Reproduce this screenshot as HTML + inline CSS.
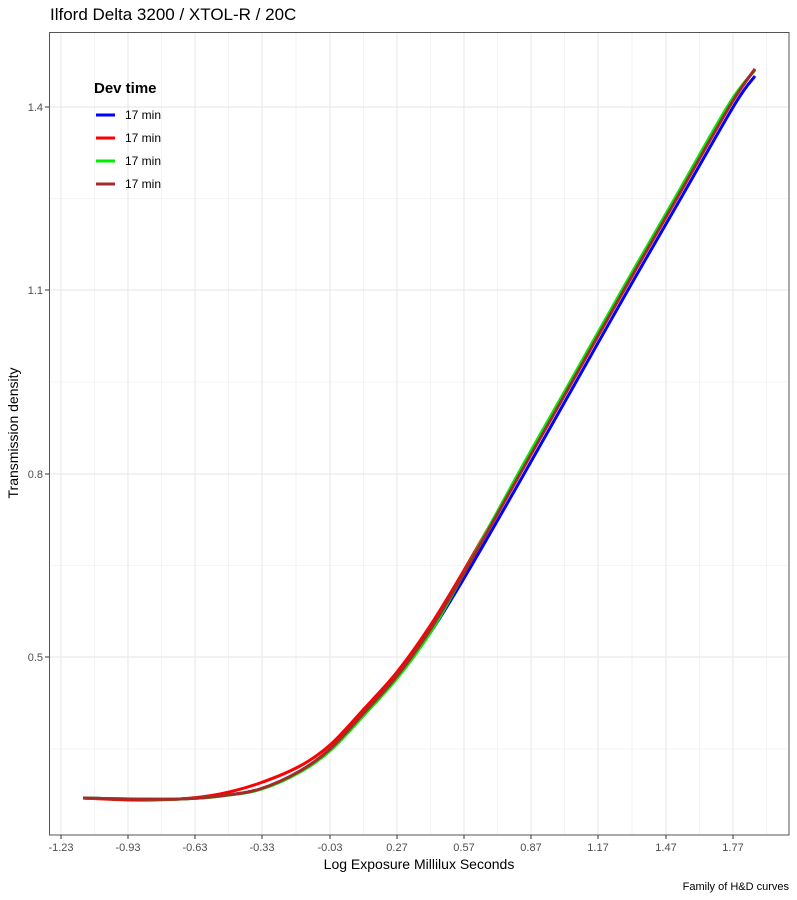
<!DOCTYPE html>
<html><head><meta charset="utf-8"><style>
body{margin:0;background:#fff;}
svg{display:block;font-family:"Liberation Sans",sans-serif;}
</style></head><body>
<svg id="s" width="797" height="900" viewBox="0 0 797 900">
<rect width="797" height="900" fill="#fff"/>
<text x="50" y="20" font-size="17" fill="#000">Ilford Delta 3200 / XTOL-R / 20C</text>
<g stroke="#ebebeb" stroke-width="0.6">
<line x1="94.5" y1="32" x2="94.5" y2="835"/><line x1="161.5" y1="32" x2="161.5" y2="835"/><line x1="228.5" y1="32" x2="228.5" y2="835"/><line x1="296" y1="32" x2="296" y2="835"/><line x1="363.5" y1="32" x2="363.5" y2="835"/><line x1="430.5" y1="32" x2="430.5" y2="835"/><line x1="497.5" y1="32" x2="497.5" y2="835"/><line x1="564.5" y1="32" x2="564.5" y2="835"/><line x1="632" y1="32" x2="632" y2="835"/><line x1="699.5" y1="32" x2="699.5" y2="835"/><line x1="766.5" y1="32" x2="766.5" y2="835"/>
<line x1="50" y1="198.5" x2="789" y2="198.5"/><line x1="50" y1="382" x2="789" y2="382"/><line x1="50" y1="565.5" x2="789" y2="565.5"/><line x1="50" y1="749" x2="789" y2="749"/>
</g>
<g stroke="#ebebeb" stroke-width="1.2">
<line x1="61" y1="32" x2="61" y2="835"/><line x1="128" y1="32" x2="128" y2="835"/><line x1="195" y1="32" x2="195" y2="835"/><line x1="262" y1="32" x2="262" y2="835"/><line x1="330" y1="32" x2="330" y2="835"/><line x1="397" y1="32" x2="397" y2="835"/><line x1="464" y1="32" x2="464" y2="835"/><line x1="531" y1="32" x2="531" y2="835"/><line x1="598" y1="32" x2="598" y2="835"/><line x1="666" y1="32" x2="666" y2="835"/><line x1="733" y1="32" x2="733" y2="835"/>
<line x1="50" y1="107" x2="789" y2="107"/><line x1="50" y1="290" x2="789" y2="290"/><line x1="50" y1="474" x2="789" y2="474"/><line x1="50" y1="657" x2="789" y2="657"/>
</g>
<g fill="none" stroke-width="3" stroke-linejoin="round">
<path id="pb" stroke="#0000ff"/>
<path id="pr" stroke="#ff0000"/>
<path id="pg" stroke="#00ee00"/>
<path id="pn" stroke="#a52a2a"/>
</g>
<rect x="49.5" y="32.5" width="739.5" height="802.5" fill="none" stroke="#555" stroke-width="1"/>
<g stroke="#333" stroke-width="1">
<line x1="61" y1="835" x2="61" y2="839"/><line x1="128" y1="835" x2="128" y2="839"/><line x1="195" y1="835" x2="195" y2="839"/><line x1="262" y1="835" x2="262" y2="839"/><line x1="330" y1="835" x2="330" y2="839"/><line x1="397" y1="835" x2="397" y2="839"/><line x1="464" y1="835" x2="464" y2="839"/><line x1="531" y1="835" x2="531" y2="839"/><line x1="598" y1="835" x2="598" y2="839"/><line x1="666" y1="835" x2="666" y2="839"/><line x1="733" y1="835" x2="733" y2="839"/>
<line x1="45" y1="107" x2="49" y2="107"/><line x1="45" y1="290" x2="49" y2="290"/><line x1="45" y1="474" x2="49" y2="474"/><line x1="45" y1="657" x2="49" y2="657"/>
</g>
<g font-size="11" fill="#4d4d4d" text-anchor="middle">
<text x="61" y="851">-1.23</text><text x="128" y="851">-0.93</text><text x="195" y="851">-0.63</text><text x="262" y="851">-0.33</text><text x="330" y="851">-0.03</text><text x="397" y="851">0.27</text><text x="464" y="851">0.57</text><text x="531" y="851">0.87</text><text x="598" y="851">1.17</text><text x="666" y="851">1.47</text><text x="733" y="851">1.77</text>
</g>
<g font-size="11" fill="#4d4d4d" text-anchor="end">
<text x="43" y="111">1.4</text><text x="43" y="294">1.1</text><text x="43" y="478">0.8</text><text x="43" y="661">0.5</text>
</g>
<text x="419" y="869" font-size="14" text-anchor="middle" fill="#000">Log Exposure Millilux Seconds</text>
<text transform="translate(18,433) rotate(-90)" font-size="14" text-anchor="middle" fill="#000">Transmission density</text>
<text x="789" y="890" font-size="11" text-anchor="end" fill="#000">Family of H&amp;D curves</text>
<text x="94" y="93" font-size="15" font-weight="bold" fill="#000">Dev time</text>
<g stroke-width="3">
<line x1="96" y1="115" x2="115" y2="115" stroke="#0000ff"/>
<line x1="96" y1="138" x2="115" y2="138" stroke="#ff0000"/>
<line x1="96" y1="161" x2="115" y2="161" stroke="#00ee00"/>
<line x1="96" y1="184" x2="115" y2="184" stroke="#a52a2a"/>
</g>
<g font-size="12" fill="#000">
<text x="125" y="119">17 min</text><text x="125" y="142">17 min</text><text x="125" y="165">17 min</text><text x="125" y="188">17 min</text>
</g>
</svg>
<script>
function cr(p){var d="M"+p[0][0]+","+p[0][1];for(var i=0;i<p.length-1;i++){var a=p[Math.max(i-1,0)],b=p[i],c=p[i+1],e=p[Math.min(i+2,p.length-1)];
d+=" C"+(b[0]+(c[0]-a[0])/6).toFixed(1)+","+(b[1]+(c[1]-a[1])/6).toFixed(1)+" "+(c[0]-(e[0]-b[0])/6).toFixed(1)+","+(c[1]-(e[1]-b[1])/6).toFixed(1)+" "+c[0]+","+c[1];}return d;}
var brown=[[83,798],[130,799],[180,799],[220,796],[260,789],[300,771],[330,749],[363,714],[397,676],[430,630],[463,575],[520,474],[572,382],[624,290],[677,198],[731,104],[755,69]];
var red=[[83,798],[130,800],[180,799],[220,794],[260,783],[300,766],[330,745],[363,710],[397,672],[430,626],[463,572],[520,473],[572,382],[624,290],[677,198],[731,104],[755,69]];
var blue=brown.map(function(q){var t=Math.max(0,Math.min(1,(760-q[1])/250));return [q[0]+4*t,q[1]];});blue[blue.length-1]=[755,76];
var green=brown.map(function(q){return [q[0]+(q[1]>620?2:(q[1]>500?0:-2)),q[1]];});green[0]=[83,798];green[green.length-1]=[755,70];
document.getElementById("pn").setAttribute("d",cr(brown));
document.getElementById("pr").setAttribute("d",cr(red));
document.getElementById("pb").setAttribute("d",cr(blue));
document.getElementById("pg").setAttribute("d",cr(green));
</script>
</body></html>
